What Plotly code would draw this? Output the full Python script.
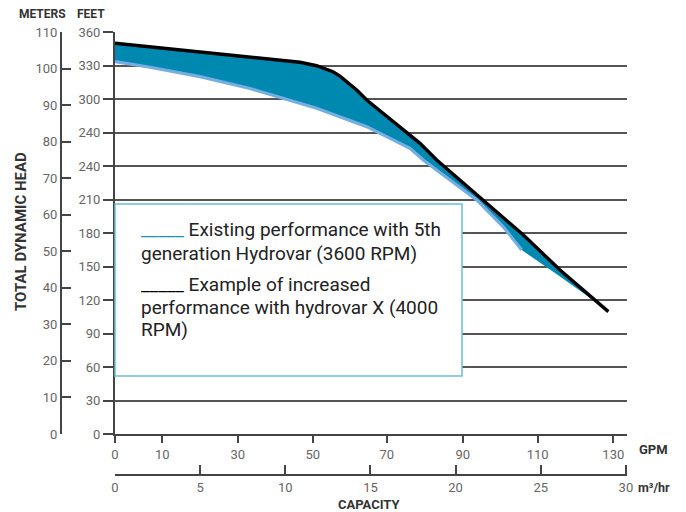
import plotly.graph_objects as go

# ---------------- data (x in m3/hr, y in feet) ----------------
BLACK_X = [0, 2.06, 4.99, 7.93, 10.86, 11.84, 12.80, 13.21, 13.61, 14.19, 14.78,
           17.91, 18.89, 21.63, 23.98, 26.13, 28.97]
BLACK_FT = [349.9, 346.8, 342.3, 337.8, 332.9, 329.8, 324.4, 320.5, 315.5, 308.1, 299.1,
            260.3, 245.4, 209.6, 178.2, 146.9, 109.6]

BLUE_X = [0, 2.06, 4.99, 7.93, 9.86, 11.84, 14.78, 17.32, 18.10, 21.24, 22.80, 23.88]
BLUE_FT = [333.4, 328.4, 320.0, 309.4, 300.6, 291.7, 275.2, 255.8, 245.4, 209.6, 185.6, 164.8]

# lower edge of the gain area after the 3600 RPM curve stops
EDGE_X = [25.35, 26.13, 28.48]
EDGE_FT = [149.5, 141.0, 115.5]

FEET_TICKS = [0, 30, 60, 90, 120, 150, 180, 210, 240, 270, 300, 330, 360]
FEET_LABELS = ["0", "30", "60", "90", "120", "150", "180", "210", "240", "240", "300", "330", "360"]
METER_TICKS = [0, 10, 20, 30, 40, 50, 60, 70, 80, 90, 100, 110]
GPM_LABELS = ["0", "10", "30", "50", "70", "90", "110", "130"]
GPM_TICK_POS = [0, 2.78, 7.21, 11.61, 15.96, 20.42, 24.82, 29.26]
M3_TICKS = [0, 5, 10, 15, 20, 25, 30]

LEGEND_1 = ["Existing performance with 5th", "generation Hydrovar (3600 RPM)"]
LEGEND_2 = ["Example of increased", "performance with hydrovar X (4000", "RPM)"]

# ---------------- figure ----------------
OFF = 8                      # page body margin
W, H = 686 - OFF, 512 - OFF  # figure size inside the window
def px(x):
    return (x - OFF) / W
def py(y):
    return 1 - (y - OFF) / H

FONT = "Roboto"
AXC = "#444444"
TICKC = "#666666"

merge_x = EDGE_X[-1]
poly_x = [x for x in BLACK_X if x < merge_x] + list(reversed(BLUE_X + EDGE_X))
poly_y = [y for x, y in zip(BLACK_X, BLACK_FT) if x < merge_x] + list(reversed(BLUE_FT + EDGE_FT))

fig = go.Figure()
fig.add_trace(go.Scatter(x=poly_x, y=poly_y, fill="toself", fillcolor="#0089B0",
                         mode="lines", line=dict(width=0, color="#0089B0"),
                         hoverinfo="skip", showlegend=False))
fig.add_trace(go.Scatter(x=BLUE_X, y=BLUE_FT, mode="lines",
                         line=dict(color="#75AEE3", width=3.2),
                         hoverinfo="skip", showlegend=False))
fig.add_trace(go.Scatter(x=BLACK_X, y=BLACK_FT, mode="lines",
                         line=dict(color="#000000", width=3.4),
                         hoverinfo="skip", showlegend=False))
# dummy trace so overlay axes render
fig.add_trace(go.Scatter(x=[None], y=[None], xaxis="x2", yaxis="y2",
                         hoverinfo="skip", showlegend=False))

XDOM = [px(115), px(627)]
YDOM = [py(434), py(32)]
XR = [0, 512 / 17.03]

common = dict(tickmode="array", tickwidth=1.5, tickcolor=AXC,
              showline=True, linecolor=AXC, linewidth=2,
              zeroline=False, automargin=False,
              tickfont=dict(family=FONT, size=13, color=TICKC))

fig.update_layout(
    width=W, height=H, autosize=False,
    margin=dict(l=0, r=0, t=0, b=0, pad=0),
    paper_bgcolor="white", plot_bgcolor="white",
    font=dict(family=FONT, color=TICKC, size=13),
    showlegend=False,
    xaxis=dict(domain=XDOM, range=XR, anchor="y",
               tickvals=GPM_TICK_POS, ticktext=GPM_LABELS,
               ticks="outside", ticklen=7, showgrid=False, **common),
    xaxis2=dict(overlaying="x", anchor="free", position=1 - (475 - OFF) / H,
                range=XR, side="bottom", tickvals=M3_TICKS,
                ticks="inside", ticklen=9, showgrid=False, **common),
    yaxis=dict(domain=YDOM, range=[0, 360], anchor="x",
               tickvals=FEET_TICKS, ticktext=FEET_LABELS,
               ticks="outside", ticklen=10,
               showgrid=True, gridcolor="#555555", gridwidth=1.5, **common),
    yaxis2=dict(overlaying="y", anchor="free", position=px(61), side="left",
                range=[0, 110], tickvals=METER_TICKS,
                ticks="inside", ticklen=9, showgrid=False, **common),
)

# legend box
fig.add_shape(type="rect", xref="paper", yref="paper",
              x0=px(115), x1=px(462), y0=py(376), y1=py(204),
              line=dict(color="#6BBED6", width=1.5), fillcolor="white", layer="above")

ann = []
def text(x, y, s, size, color="#333333", xanchor="center", yanchor="middle", angle=0):
    ann.append(dict(x=px(x), y=py(y), xref="paper", yref="paper", text=s,
                    showarrow=False, xanchor=xanchor, yanchor=yanchor, textangle=angle,
                    font=dict(family=FONT, size=size, color=color)))

text(42, 14, "<b>METERS</b>", 12)
text(91, 14, "<b>FEET</b>", 12)
text(21, 232, "<b>TOTAL DYNAMIC HEAD</b>", 15, angle=-90)
text(637, 449, "<b>GPM</b>", 13, xanchor="left")
text(636, 487, "<b>m³/hr</b>", 12.5, xanchor="left")
text(369, 504, "<b>CAPACITY</b>", 13)

LEG_TXT = "#222222"
LS = 19
text(139, 229, "<span style='color:#1A8FBB'>_____</span> " + LEGEND_1[0], LS, LEG_TXT, xanchor="left")
text(139, 253, LEGEND_1[1], LS, LEG_TXT, xanchor="left")
text(139, 284, "<span style='color:#000000'>_____</span> " + LEGEND_2[0], LS, LEG_TXT, xanchor="left")
text(139, 307, LEGEND_2[1], LS, LEG_TXT, xanchor="left")
text(139, 329, LEGEND_2[2], LS, LEG_TXT, xanchor="left")

fig.update_layout(annotations=ann)

fig.write_html("out.html", config={"displayModeBar": False})
